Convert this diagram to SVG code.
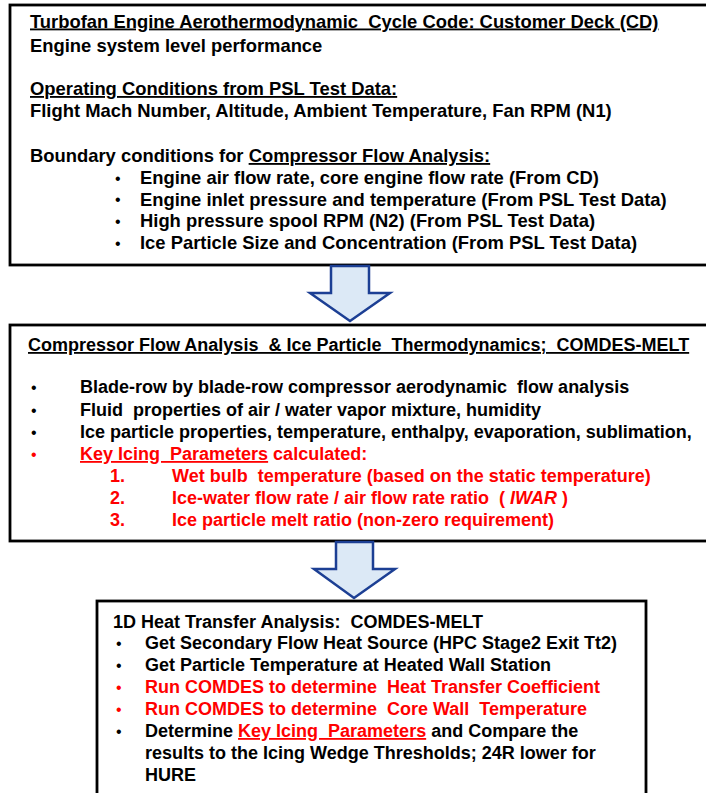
<svg xmlns="http://www.w3.org/2000/svg" width="706" height="793" viewBox="0 0 706 793">
<style>
.box{fill:#ffffff;stroke:#000000;stroke-width:2.8}
.arrow{fill:#dce9f6;stroke:#1c3f94;stroke-width:2.5;stroke-linejoin:miter}
text{font-family:"Liberation Sans",Arial,sans-serif;font-size:18px;font-weight:bold;fill:#000000;white-space:pre}
.b1 text{font-size:18.4px}
text.bul{font-weight:normal;font-size:16px}
.b1 text.bul{font-size:16px}
.red{fill:#ff0000}
.u{text-decoration:underline}
.it{font-style:italic}
</style>
<rect width="706" height="793" fill="#ffffff"/>
<g id="node-cd" class="b1">
<rect class="box" x="10" y="5" width="710" height="260"/>
<text x="30" y="27.5" class="u">Turbofan Engine Aerothermodynamic  Cycle Code: Customer Deck (CD)</text>
<text x="30" y="52">Engine system level performance</text>
<text x="30" y="95" class="u">Operating Conditions from PSL Test Data:</text>
<text x="30" y="117">Flight Mach Number, Altitude, Ambient Temperature, Fan RPM (N1)</text>
<text x="30" y="162">Boundary conditions for <tspan class="u">Compressor Flow Analysis:</tspan></text>
<text x="115" y="183.5" class="bul">•</text>
<text x="140" y="184">Engine air flow rate, core engine flow rate (From CD)</text>
<text x="115" y="205" class="bul">•</text>
<text x="140" y="205.5">Engine inlet pressure and temperature (From PSL Test Data)</text>
<text x="115" y="226.5" class="bul">•</text>
<text x="140" y="227">High pressure spool RPM (N2) (From PSL Test Data)</text>
<text x="115" y="248.5" class="bul">•</text>
<text x="140" y="249">Ice Particle Size and Concentration (From PSL Test Data)</text>
</g>
<g id="node-comdes">
<rect class="box" x="10" y="325" width="710" height="216"/>
<text x="28" y="351" class="u">Compressor Flow Analysis  &amp; Ice Particle  Thermodynamics;  COMDES-MELT</text>
<text x="31" y="392.5" class="bul">•</text>
<text x="80" y="393">Blade-row by blade-row compressor aerodynamic  flow analysis</text>
<text x="31" y="415.5" class="bul">•</text>
<text x="80" y="416">Fluid  properties of air / water vapor mixture, humidity</text>
<text x="31" y="437.5" class="bul">•</text>
<text x="80" y="438">Ice particle properties, temperature, enthalpy, evaporation, sublimation,</text>
<text x="31" y="459.5" class="bul red">•</text>
<text x="80" y="460" class="red"><tspan class="u">Key Icing  Parameters</tspan> calculated:</text>
<text x="110" y="482" class="red">1.</text>
<text x="172" y="482" class="red">Wet bulb  temperature (based on the static temperature)</text>
<text x="110" y="504" class="red">2.</text>
<text x="172" y="504" class="red">Ice-water flow rate / air flow rate ratio  ( <tspan class="it">IWAR</tspan> )</text>
<text x="110" y="526" class="red">3.</text>
<text x="172" y="526" class="red">Ice particle melt ratio (non-zero requirement)</text>
</g>
<g id="node-heat">
<rect class="box" x="97" y="601" width="549" height="220"/>
<text x="113" y="628">1D Heat Transfer Analysis:  COMDES-MELT</text>
<text x="116" y="648.5" class="bul">•</text>
<text x="145" y="649">Get Secondary Flow Heat Source (HPC Stage2 Exit Tt2)</text>
<text x="116" y="670.5" class="bul">•</text>
<text x="145" y="671">Get Particle Temperature at Heated Wall Station</text>
<text x="116" y="692.5" class="bul red">•</text>
<text x="145" y="693" class="red">Run COMDES to determine  Heat Transfer Coefficient</text>
<text x="116" y="714.5" class="bul red">•</text>
<text x="145" y="715" class="red">Run COMDES to determine  Core Wall  Temperature</text>
<text x="116" y="736.5" class="bul">•</text>
<text x="145" y="737">Determine <tspan class="red u">Key Icing  Parameters</tspan> and Compare the</text>
<text x="145" y="759">results to the Icing Wedge Thresholds; 24R lower for</text>
<text x="145" y="781">HURE</text>
</g>
<g id="connectors">
<polygon class="arrow" points="331,266 369,266 369,293 390,293 350,321 310,293 331,293"/>
<polygon class="arrow" points="336,542 373,542 373,569 395,569 354,598 314,569 336,569"/>
</g>
</svg>
